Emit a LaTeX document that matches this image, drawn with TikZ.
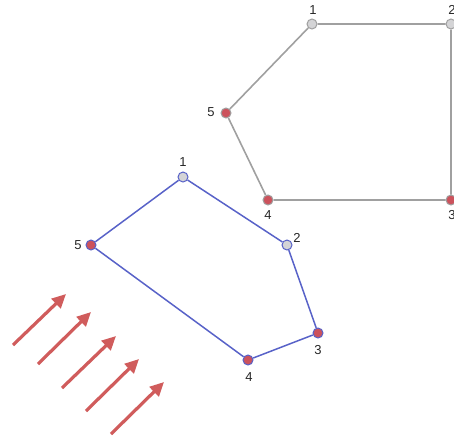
\documentclass[tikz,border=0pt]{standalone}
\usepackage{fontspec}
\setmainfont{Liberation Sans}
\usetikzlibrary{arrows.meta}
\definecolor{edgegray}{RGB}{160,160,160}
\definecolor{nodegray}{RGB}{212,212,214}
\definecolor{nodered}{RGB}{204,82,92}
\definecolor{edgeblue}{RGB}{88,98,200}
\definecolor{arrowred}{RGB}{208,92,92}
\tikzset{
  gv/.style={circle,inner sep=0pt,minimum size=10pt,draw=edgegray,line width=1pt},
  bv/.style={circle,inner sep=0pt,minimum size=10pt,draw=edgeblue,line width=1pt},
  grayv/.style={fill=nodegray},
  redv/.style={fill=nodered},
  gedge/.style={draw=edgegray,line width=1.6pt},
  bedge/.style={draw=edgeblue,line width=1.5pt},
  lbl/.style={font=\fontsize{13}{15}\selectfont,inner sep=1pt,text=black!85},
  flow/.style={draw=arrowred,line width=3.2pt,-{Triangle[length=14pt,width=13pt]}}
}
\begin{document}
\begin{tikzpicture}[x=1pt,y=-1pt]
\useasboundingbox (0,0) rectangle (454,440);
% gray pentagon
\node[gv,grayv] (g1) at (312,24) {};
\node[gv,grayv] (g2) at (451,24) {};
\node[gv,redv] (g3) at (451,200) {};
\node[gv,redv] (g4) at (268,200) {};
\node[gv,redv] (g5) at (226,113) {};
\draw[gedge] (g1) -- (g2) -- (g3) -- (g4) -- (g5) -- (g1);
\node[lbl] (gl1) at (313,10) {1};
\node[lbl] (gl2) at (452,10) {2};
\node[lbl] (gl3) at (452,215) {3};
\node[lbl] (gl4) at (268,215) {4};
\node[lbl] (gl5) at (211,112) {5};
% blue pentagon
\node[bv,grayv] (b1) at (183,177) {};
\node[bv,grayv] (b2) at (287,245) {};
\node[bv,redv] (b3) at (318,333) {};
\node[bv,redv] (b4) at (248,360) {};
\node[bv,redv] (b5) at (91,245) {};
\draw[bedge] (b1) -- (b2) -- (b3) -- (b4) -- (b5) -- (b1);
\node[lbl] (bl1) at (183,162) {1};
\node[lbl] (bl2) at (297,238) {2};
\node[lbl] (bl3) at (318,350) {3};
\node[lbl] (bl4) at (249,377) {4};
\node[lbl] (bl5) at (78,245) {5};
% arrows
\coordinate (a1s) at (13,345); \coordinate (a1e) at (66,294);
\coordinate (a2s) at (38,364); \coordinate (a2e) at (91,312);
\coordinate (a3s) at (62,388); \coordinate (a3e) at (116,336);
\coordinate (a4s) at (86,411); \coordinate (a4e) at (139,359);
\coordinate (a5s) at (111,434); \coordinate (a5e) at (164,382);
\draw[flow] (a1s) -- (a1e);
\draw[flow] (a2s) -- (a2e);
\draw[flow] (a3s) -- (a3e);
\draw[flow] (a4s) -- (a4e);
\draw[flow] (a5s) -- (a5e);
\end{tikzpicture}
\end{document}
